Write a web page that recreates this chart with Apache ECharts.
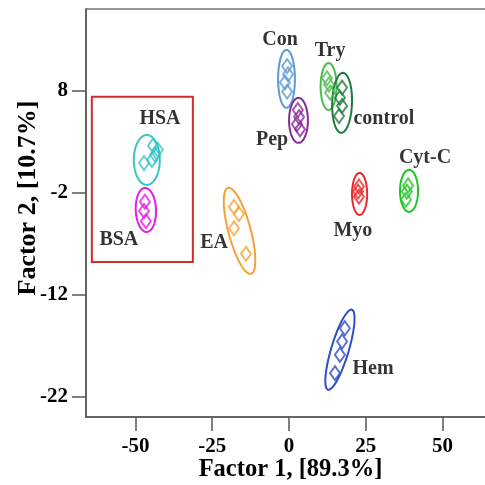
<!DOCTYPE html>
<html>
<head>
<meta charset="utf-8">
<script src="https://cdn.jsdelivr.net/npm/echarts@6/dist/echarts.min.js"></script>
<style>
  html, body { margin: 0; padding: 0; background: #fff; }
  #main { width: 485px; height: 485px; }
</style>
</head>
<body>
<div id="main"></div>
<script>
// group names + colours
var groups = ['HSA', 'BSA', 'Con', 'Pep', 'Try', 'control', 'Cyt-C', 'Myo', 'EA', 'Hem'];
var colors = ['#36c4c6', '#e21fe2', '#5c9bd3', '#8a2a9a', '#4dbd4f', '#1f7a3e', '#23c423', '#e62a2e', '#f4a236', '#2c4fc2'];

// score points (factor 1, factor 2) per group
var hsa = [[-47.2, 0.9], [-44.6, 1.2], [-43.6, 1.7], [-42.7, 2.2], [-44.3, 2.6]];
var bsa = [[-46.9, -2.9], [-47.2, -3.8], [-46.6, -4.8]];
var con = [[-0.6, 10.4], [-0.3, 9.6], [-1.3, 8.8], [-0.6, 7.9]];
var pep = [[2.9, 6.1], [3.3, 5.4], [2.6, 4.7], [3.6, 4.2]];
var tryp = [[12.4, 9.2], [13.0, 8.6], [13.4, 7.8]];
var control = [[17.3, 8.3], [16.6, 7.3], [17.3, 6.5], [16.3, 5.5]];
var cytc = [[38.8, -1.3], [38.4, -1.9], [38.1, -2.7]];
var myo = [[22.8, -1.4], [22.5, -1.9], [22.8, -2.4]];
var ea = [[-17.9, -3.4], [-16.3, -4.1], [-17.9, -5.5], [-14.0, -8.0]];
var hem = [[18.2, -15.3], [17.3, -16.6], [16.6, -17.9], [15.0, -19.7]];
var points = [hsa, bsa, con, pep, tryp, control, cytc, myo, ea, hem];

// confidence ellipses: centre x, centre y, major half-axis dx, dy (data units), minor/major ratio
var ellipses = [
  [-46.3, 1.2, 0, 2.45, 0.52],
  [-46.6, -3.7, -0.3, 2.16, 0.46],
  [-0.8, 9.15, 0, 2.84, 0.29],
  [3.1, 5.08, 0, 2.2, 0.42],
  [12.9, 8.4, 0, 2.3, 0.34],
  [17.3, 6.8, 0.3, 2.94, 0.33],
  [39.1, -1.83, 0, 2.06, 0.43],
  [23.0, -2.13, 0, 2.06, 0.36],
  [-16.1, -5.75, -3.75, 4.22, 0.25],
  [16.6, -17.4, 3.9, 3.92, 0.21]
];

// label anchors (data units)
var labelPos = [
  [-42.0, 5.2], [-55.4, -6.6], [-2.9, 13.0], [-5.5, 3.2], [13.4, 11.9],
  [30.9, 5.2], [44.3, 1.4], [20.8, -5.7], [-24.4, -6.9], [27.4, -19.3]
];

// highlighted box (HSA / BSA)
var boxCorners = [[-64.2, 7.4], [-31.3, -8.8]];

var xTicks = [-50, -25, 0, 25, 50];
var yTicks = [-22, -12, -2, 8];

var chart = echarts.init(document.getElementById('main'));
var serif = '"Liberation Serif", "Times New Roman", serif';

function ellipseItem(params, api) {
  var c = api.coord([api.value(0), api.value(1)]);
  var e = api.coord([api.value(0) + api.value(2), api.value(1) + api.value(3)]);
  var ax = e[0] - c[0], ay = e[1] - c[1];
  var r = api.value(4);
  var bx = -ay * r, by = ax * r;
  var pts = [];
  for (var i = 0; i < 72; i++) {
    var t = i / 72 * Math.PI * 2;
    pts.push([c[0] + ax * Math.cos(t) + bx * Math.sin(t), c[1] + ay * Math.cos(t) + by * Math.sin(t)]);
  }
  return {
    type: 'polygon',
    shape: { points: pts },
    style: { fill: 'none', stroke: colors[params.dataIndex], lineWidth: 2 }
  };
}

var series = [];
points.forEach(function (pts, i) {
  series.push({
    type: 'scatter',
    data: pts,
    symbol: 'diamond',
    symbolSize: [10, 14],
    itemStyle: { color: 'rgba(255,255,255,0)', borderColor: colors[i], borderWidth: 2 },
    z: 3
  });
});
series.push({
  type: 'custom',
  renderItem: ellipseItem,
  data: ellipses,
  z: 2,
  silent: true
});
series.push({
  type: 'scatter',
  data: labelPos.map(function (p, i) { return { value: p, name: groups[i] }; }),
  symbolSize: 0,
  label: {
    show: true,
    position: 'inside',
    formatter: '{b}',
    color: '#000',
    fontFamily: serif,
    fontWeight: 'bold',
    fontSize: 20
  },
  markArea: {
    silent: true,
    itemStyle: { color: 'rgba(0,0,0,0)', borderColor: '#d42a2a', borderWidth: 2 },
    data: [[
      { xAxis: boxCorners[0][0], yAxis: boxCorners[0][1] },
      { xAxis: boxCorners[1][0], yAxis: boxCorners[1][1] }
    ]]
  },
  z: 4
});

var option = {
  animation: false,
  backgroundColor: '#fff',
  grid: {
    left: 86, top: 9, right: -10, bottom: 68,
    outerBoundsMode: 'none',
    containLabel: false,
    show: true, borderColor: '#777', borderWidth: 1.5
  },
  xAxis: {
    type: 'value',
    min: -66.1, max: 67.1,
    splitLine: { show: false },
    axisLine: { onZero: false, lineStyle: { color: '#555', width: 1.5 } },
    axisTick: { length: 14, customValues: xTicks, lineStyle: { color: '#555', width: 1.5 } },
    axisLabel: {
      customValues: xTicks, margin: 19, color: '#000',
      fontFamily: serif, fontWeight: 'bold', fontSize: 21
    },
    name: 'Factor 1, [89.3%]',
    nameLocation: 'middle',
    nameMoveOverlap: false,
    nameGap: 40,
    nameTextStyle: { color: '#000', fontFamily: serif, fontWeight: 'bold', fontSize: 24.5 }
  },
  yAxis: {
    type: 'value',
    min: -24, max: 16,
    splitLine: { show: false },
    axisLine: { onZero: false, lineStyle: { color: '#555', width: 1.5 } },
    axisTick: { length: 14, customValues: yTicks, lineStyle: { color: '#555', width: 1.5 } },
    axisLabel: {
      customValues: yTicks, margin: 18, color: '#000',
      fontFamily: serif, fontWeight: 'bold', fontSize: 21
    },
    name: 'Factor 2, [10.7%]',
    nameLocation: 'middle',
    nameMoveOverlap: false,
    nameGap: 45,
    nameRotate: 90,
    nameTextStyle: { color: '#000', fontFamily: serif, fontWeight: 'bold', fontSize: 26, padding: [0, 0, 0, 30] }
  },
  series: series
};

chart.setOption(option);
</script>
</body>
</html>
